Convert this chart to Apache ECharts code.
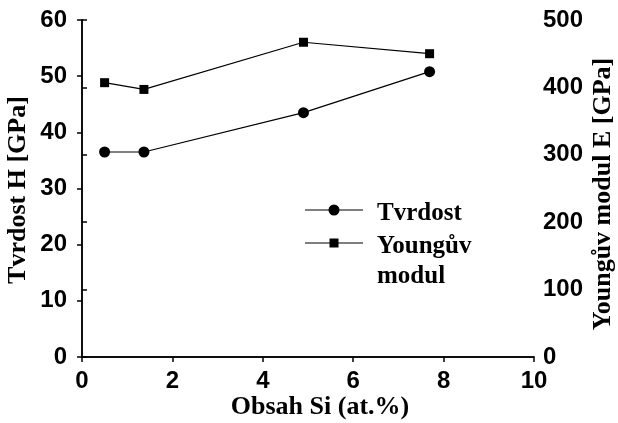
<!DOCTYPE html>
<html>
<head>
<meta charset="utf-8">
<script src="https://cdn.jsdelivr.net/npm/echarts@6/dist/echarts.min.js"></script>
<style>
  html, body { margin: 0; padding: 0; background: #fff; }
  #chart { width: 618px; height: 423px; }
</style>
</head>
<body>
<div id="chart"></div>
<script>
// Si content (at.%) of the measured films
const siContent = [0.5, 1.37, 4.9, 7.69];
// Hardness H [GPa]
const hardness = [36.5, 36.5, 43.5, 50.8];
// Young's modulus E [GPa]
const modulus = [407, 397, 467, 450];

const seriesNames = ['Tvrdost', 'Youngův\nmodul'];
const xTitle = 'Obsah Si (at.%)';
const yLeftTitle = 'Tvrdost H [GPa]';
const yRightTitle = 'Youngův modul E [GPa]';

const tickFont = { fontFamily: 'Liberation Sans', fontWeight: 'bold', fontSize: 24, color: '#000' };
const titleCss = 'bold 26px "Liberation Serif"';
const axisLine = { show: true, lineStyle: { color: '#000', width: 1.5 } };
const axisTick = { show: true, length: 5, inside: false, lineStyle: { color: '#000', width: 1.5 } };

const chart = echarts.init(document.getElementById('chart'), null, { renderer: 'canvas' });

function pair(xs, ys) { return xs.map((x, i) => [x, ys[i]]); }

const legendX = 305, legendW = 58, legendTextX = 377;
const legendRows = [
  { y: 210, symbol: 'circle' },
  { y: 243, symbol: 'rect' }
];

const graphics = [];
legendRows.forEach((row, i) => {
  graphics.push({
    type: 'line', shape: { x1: legendX, y1: row.y, x2: legendX + legendW, y2: row.y },
    style: { stroke: '#000', lineWidth: 1.2 }
  });
  if (row.symbol === 'circle') {
    graphics.push({ type: 'circle', shape: { cx: legendX + legendW / 2, cy: row.y, r: 5.5 }, style: { fill: '#000' } });
  } else {
    graphics.push({ type: 'rect', shape: { x: legendX + legendW / 2 - 4.5, y: row.y - 4.5, width: 9, height: 9 }, style: { fill: '#000' } });
  }
  graphics.push({
    type: 'text', x: legendTextX, y: row.y - 11,
    style: {
      text: seriesNames[i], fill: '#000',
      font: 'bold 25px "Liberation Serif"', lineHeight: 30,
      verticalAlign: 'top', align: 'left'
    }
  });
});

// Axis titles
graphics.push(
  { type: 'text', x: 320, y: 407,
    style: { text: xTitle, font: titleCss, fill: '#000', align: 'center', verticalAlign: 'middle' } },
  { type: 'text', x: 18, y: 190, rotation: Math.PI / 2,
    style: { text: yLeftTitle, font: titleCss, fill: '#000', align: 'center', verticalAlign: 'middle' } },
  { type: 'text', x: 603, y: 194, rotation: Math.PI / 2,
    style: { text: yRightTitle, font: titleCss, fill: '#000', align: 'center', verticalAlign: 'middle' } }
);

chart.setOption({
  backgroundColor: '#fff',
  animation: false,
  grid: { left: 82, right: 84, top: 20, bottom: 66, containLabel: false },
  xAxis: [{
    type: 'value', min: 0, max: 10, interval: 2,
    axisLine, axisTick, splitLine: { show: false },
    axisLabel: Object.assign({ margin: 12 }, tickFont)
  }, {
    type: 'value', min: 0, max: 10, position: 'top',
    axisLine, axisTick: { show: false }, axisLabel: { show: false }, splitLine: { show: false }
  }],
  yAxis: [{
    type: 'value', min: 0, max: 60, interval: 10, position: 'left',
    axisLine, axisTick, splitLine: { show: false },
    axisLabel: Object.assign({ margin: 15 }, tickFont)
  }, {
    type: 'value', min: 0, max: 500, interval: 100, position: 'right',
    axisLine, axisTick, splitLine: { show: false },
    axisLabel: Object.assign({ margin: 9 }, tickFont)
  }],
  series: [{
    name: 'Tvrdost', type: 'line', xAxisIndex: 0, yAxisIndex: 0,
    data: pair(siContent, hardness),
    symbol: 'circle', symbolSize: 11,
    lineStyle: { color: '#000', width: 1.2 }, itemStyle: { color: '#000' }
  }, {
    name: 'Youngův modul', type: 'line', xAxisIndex: 0, yAxisIndex: 1,
    data: pair(siContent, modulus),
    symbol: 'rect', symbolSize: 9,
    lineStyle: { color: '#000', width: 1.2 }, itemStyle: { color: '#000' }
  }],
  graphic: graphics
});
</script>
</body>
</html>
